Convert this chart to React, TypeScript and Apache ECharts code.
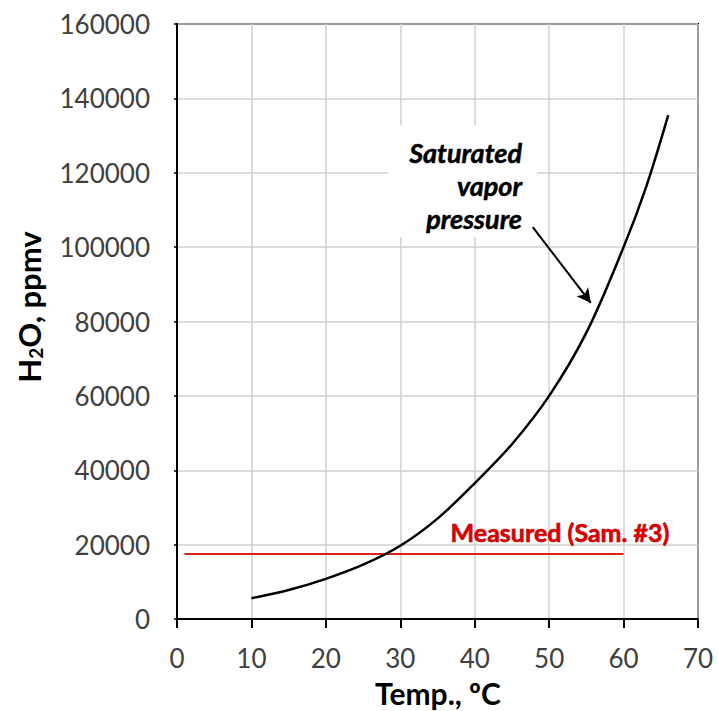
import React, { useEffect, useRef } from "react";
import * as echarts from "echarts";

// Saturated vapor pressure curve (Temp °C -> H2O ppmv)
const temps = [10, 15, 20, 25, 30, 35, 40, 45, 50, 55, 60, 63, 66];
const h2o = [5600, 7800, 10800, 14600, 19700, 27000, 36500, 47000, 60000, 77000, 100000, 116000, 135500];

// Measured (Sam. #3)
const measuredTemps = [1, 60];
const measuredValue = 17500;

// Axis ticks
const xTicks = [0, 10, 20, 30, 40, 50, 60, 70];
const yTicks = [0, 20000, 40000, 60000, 80000, 100000, 120000, 140000, 160000];

// Arrow annotation (data coordinates)
const arrowStart = [47.8, 105400];
const arrowEnd = [55.6, 85000];

const FONT = "Lato, 'Open Sans', sans-serif";

export default function App() {
  const ref = useRef<HTMLDivElement>(null);
  useEffect(() => {
    document.body.style.margin = "0";
    document.body.style.overflow = "hidden";
    if (!ref.current) return;
    const chart = echarts.init(ref.current, undefined, { renderer: "svg" });
    chart.setOption({
      animation: false,
      backgroundColor: "#fff",
      textStyle: { fontFamily: FONT },
      grid: {
        left: 177,
        top: 24,
        right: 20,
        bottom: 92,
        show: true,
        borderColor: "#000",
        borderWidth: 2,
        backgroundColor: "transparent",
      },
      xAxis: {
        type: "value",
        min: xTicks[0],
        max: xTicks[xTicks.length - 1],
        interval: 10,
        axisLine: { show: true, lineStyle: { color: "#000", width: 2 } },
        axisTick: { show: true, length: 9, lineStyle: { color: "#000", width: 2 } },
        axisLabel: {
          fontSize: 26,
          color: "#404040",
          margin: 26,
          fontFamily: FONT,
          formatter: (v: number) => String(v),
        },
        splitLine: { show: true, lineStyle: { color: "#d0d0d0", width: 1.5 } },
      },
      yAxis: {
        type: "value",
        min: yTicks[0],
        max: yTicks[yTicks.length - 1],
        interval: 20000,
        axisLine: { show: true, lineStyle: { color: "#000", width: 2 } },
        axisTick: { show: true, length: 3, lineStyle: { color: "#000", width: 1.5 } },
        axisLabel: {
          fontSize: 26,
          color: "#404040",
          margin: 27,
          fontFamily: FONT,
          formatter: (v: number) => String(v),
        },
        splitLine: { show: true, lineStyle: { color: "#d0d0d0", width: 1.5 } },
      },
      graphic: [
        {
          type: "rect",
          shape: { x: 388, y: 125, width: 149, height: 112 },
          style: { fill: "#fff" },
          z: 1,
        },
        {
          type: "text",
          x: 522,
          y: 185,
          z: 3,
          style: {
            text: "Saturated\nvapor\npressure",
            align: "right",
            verticalAlign: "middle",
            font: `italic bold 27px ${FONT}`,
            lineHeight: 33,
            fill: "#000",
            stroke: "#000",
            lineWidth: 0.5,
          },
        },
        {
          type: "text",
          x: 560,
          y: 532,
          z: 3,
          style: {
            text: "Measured (Sam. #3)",
            align: "center",
            verticalAlign: "middle",
            font: `bold 25px ${FONT}`,
            fill: "#e00000",
            stroke: "#7a0000",
            lineWidth: 0.6,
          },
        },
        {
          type: "text",
          x: 438,
          y: 693,
          style: {
            text: "Temp., ºC",
            align: "center",
            verticalAlign: "middle",
            font: `bold 30px ${FONT}`,
            fill: "#000",
          },
        },
        {
          type: "text",
          x: 29,
          y: 307,
          rotation: Math.PI / 2,
          style: {
            text: "{a|H}{s|2}{a|O, ppmv}",
            align: "center",
            verticalAlign: "middle",
            rich: {
              a: { font: `bold 31px ${FONT}`, fill: "#000", verticalAlign: "middle" },
              s: { font: `bold 19px ${FONT}`, fill: "#000", verticalAlign: "bottom" },
            },
          },
        },
      ],
      series: [
        {
          type: "line",
          data: temps.map((t, i) => [t, h2o[i]]),
          smooth: 0.35,
          showSymbol: false,
          lineStyle: { color: "#000", width: 2.5 },
          z: 5,
          markLine: {
            silent: true,
            symbol: ["none", "arrow"],
            symbolSize: [11, 14],
            lineStyle: { color: "#000", width: 2, type: "solid" },
            label: { show: false },
            data: [[{ coord: arrowStart }, { coord: arrowEnd }]],
          },
        },
        {
          type: "line",
          data: measuredTemps.map((t) => [t, measuredValue]),
          showSymbol: false,
          lineStyle: { color: "#e0201b", width: 2 },
          z: 4,
        },
      ],
    });
    return () => chart.dispose();
  }, []);
  return (
    <div
      ref={ref}
      style={{ position: "fixed", left: 0, top: 0, width: 718, height: 711 }}
    />
  );
}
